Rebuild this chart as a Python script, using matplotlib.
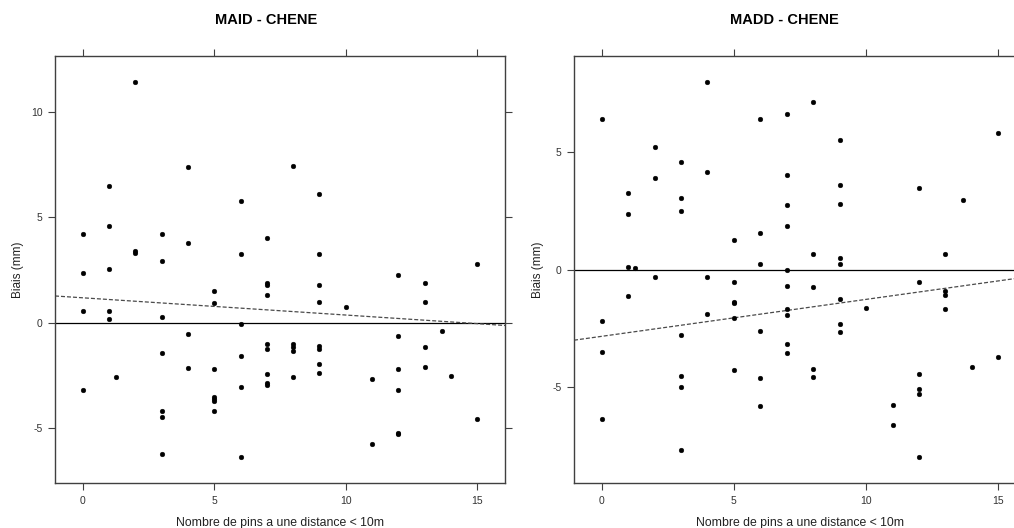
import numpy as np
import matplotlib
matplotlib.use("Agg")
import matplotlib.pyplot as plt

plt.rcParams['font.family'] = ['Liberation Sans', 'DejaVu Sans']
plt.rcParams['axes.unicode_minus'] = False

# MAID - CHENE : number of pines within 10 m vs bias (mm)
maid_x = [0, 0, 0, 0,
          1, 1, 1, 1, 1,
          1.27,
          2, 2, 2,
          3, 3, 3, 3, 3, 3, 3,
          4, 4, 4, 4,
          5, 5, 5, 5, 5, 5, 5,
          6, 6, 6, 6, 6, 6,
          7, 7, 7, 7, 7, 7, 7, 7, 7,
          8, 8, 8, 8, 8,
          9, 9, 9, 9, 9, 9, 9, 9,
          10,
          11, 11,
          12, 12, 12, 12, 12, 12,
          13, 13, 13, 13,
          13.64,
          14,
          15, 15]
maid_bias = [4.22, 2.36, 0.54, -3.22,
             6.49, 4.59, 2.57, 0.54, 0.19,
             -2.59,
             11.43, 3.41, 3.29,
             4.19, 2.95, 0.28, -1.46, -4.21, -4.49, -6.24,
             7.38, 3.78, -0.54, -2.14,
             1.50, 0.95, -2.21, -3.52, -3.62, -3.72, -4.22,
             5.78, 3.25, -0.05, -1.59, -3.07, -6.38,
             4.00, 1.86, 1.81, 1.29, -1.02, -1.27, -2.45, -2.85, -2.98,
             7.46, -1.03, -1.16, -1.37, -2.59,
             6.11, 3.25, 1.81, 0.98, -1.12, -1.25, -1.95, -2.40,
             0.76,
             -2.70, -5.75,
             2.25, -0.62, -2.22, -3.19, -5.24, -5.32,
             1.89, 0.98, -1.14, -2.11,
             -0.40,
             -2.52,
             2.81, -4.56]

# MADD - CHENE
madd_x = [0, 0, 0, 0,
          1, 1, 1, 1,
          1.27,
          2, 2, 2,
          3, 3, 3, 3, 3, 3, 3,
          4, 4, 4, 4,
          5, 5, 5, 5, 5, 5,
          6, 6, 6, 6, 6, 6,
          7, 7, 7, 7, 7, 7, 7, 7, 7, 7,
          8, 8, 8, 8, 8,
          9, 9, 9, 9, 9, 9, 9, 9,
          10,
          11, 11,
          12, 12, 12, 12, 12, 12,
          13, 13, 13, 13,
          13.65,
          14,
          15, 15]
madd_bias = [6.40, -2.21, -3.50, -6.36,
             3.24, 2.38, 0.11, -1.11,
             0.06,
             5.20, 3.88, -0.34,
             4.57, 3.04, 2.48, -2.80, -4.53, -5.00, -7.69,
             7.96, 4.13, -0.31, -1.90,
             1.27, -0.55, -1.37, -1.42, -2.07, -4.29,
             6.40, 1.56, 0.23, -2.63, -4.60, -5.82,
             6.63, 4.01, 2.74, 1.84, 0.00, -0.71, -1.70, -1.94, -3.17, -3.57,
             7.12, 0.68, -0.76, -4.22, -4.59,
             5.49, 3.61, 2.77, 0.48, 0.25, -1.25, -2.31, -2.64,
             -1.64,
             -5.75, -6.61,
             3.47, -0.55, -4.43, -5.06, -5.30, -7.96,
             0.65, -0.91, -1.10, -1.69,
             2.97,
             -4.16,
             5.82, -3.71]

# trend lines (intercept, slope) shown dashed in each panel
trend_lines = [(1.18, -0.082), (-2.84, 0.157)]

panel_titles = ["MAID - CHENE", "MADD - CHENE"]
x_ticks = [0, 5, 10, 15]
y_ticks = [[-5, 0, 5, 10], [-5, 0, 5]]
x_label = "Nombre de pins a une distance < 10m"
y_label = "Biais (mm)"

W, H = 1014, 528
fig = plt.figure(figsize=(W / 100, H / 100), dpi=100)

frame_col = '#404040'


def px_axes(left, right, top, bottom):
    return fig.add_axes([left / W, 1 - bottom / H, (right - left) / W, (bottom - top) / H])


def lattice_limits(vals):
    lo, hi = min(vals), max(vals)
    r = hi - lo
    return lo - 0.07 * r, hi + 0.07 * r


panels = [
    (px_axes(55, 505, 56, 483), maid_x, maid_bias, 266, 18),
    (px_axes(574, 1026, 56, 483), madd_x, madd_bias, 784, 538),
]

for i, (ax, xs, ys, title_x, ylab_x) in enumerate(panels):
    xs = np.asarray(xs, float)
    ys = np.asarray(ys, float)
    xlim = lattice_limits(xs)
    ylim = lattice_limits(ys)
    ax.set_xlim(*xlim)
    ax.set_ylim(*ylim)

    # reference line at zero and trend line
    ax.axhline(0, color='black', lw=0.9, zorder=1)
    intercept, slope = trend_lines[i]
    xx = np.array(xlim)
    ax.plot(xx, intercept + slope * xx, color='#4a4a4a', lw=0.9,
            dashes=(3.2, 1.6), zorder=1)

    ax.plot(xs, ys, 'o', ms=3.4, color='black', mec='black', mew=0.3, zorder=3)

    ax.set_xticks(x_ticks)
    ax.set_yticks(y_ticks[i])
    ax.tick_params(direction='out', length=5, width=0.8, color=frame_col,
                   labelsize=7.5, labelcolor='#333333', pad=4,
                   top=True, right=True, labeltop=False, labelright=False)
    for sp in ax.spines.values():
        sp.set_color(frame_col)
        sp.set_linewidth(1.0)

    fig.text(title_x / W, 1 - 20 / H, panel_titles[i], ha='center', va='center',
             fontsize=10.5, fontweight='bold', color='black')
    ax.set_xlabel(x_label, fontsize=8.8, color='#222222', labelpad=8)
    fig.text(ylab_x / W, 1 - 270 / H, y_label, rotation=90, ha='center',
             va='center', fontsize=8.5, color='#222222')

fig.savefig('out.png', dpi=100)
